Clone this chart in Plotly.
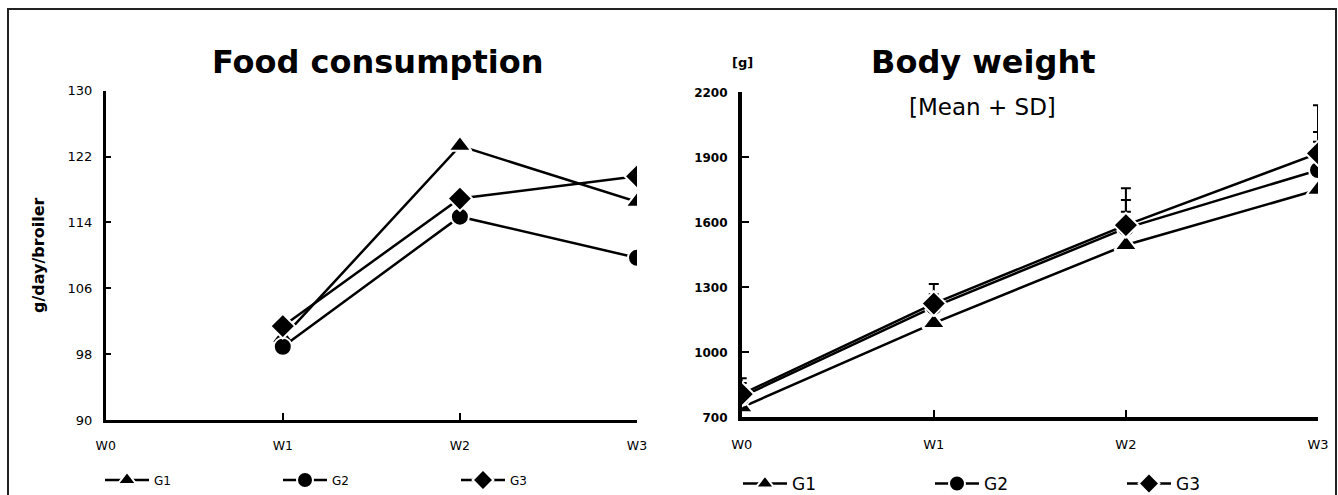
import plotly.graph_objects as go

# ---------------- data ----------------
weeks = ["W0", "W1", "W2", "W3"]
groups = ["G1", "G2", "G3"]
symbols = ["triangle-up", "circle", "diamond"]
marker_sizes = [20, 18, 19]

# Food consumption (g/day/broiler)
fc_g1 = [None, 100.0, 123.3, 116.5]
fc_g2 = [None, 98.9, 114.7, 109.7]
fc_g3 = [None, 101.4, 116.9, 119.6]

# Body weight (g), mean and SD
bw_g1 = [746, 1135, 1495, 1750]
bw_g2 = [795, 1210, 1573, 1841]
bw_g3 = [807, 1225, 1587, 1918]
sd_g1 = [94, 80, 154, 222]
sd_g2 = [85, 58, 130, 176]
sd_g3 = [51, 90, 170, 222]

fc_ticks = [90, 98, 106, 114, 122, 130]
bw_ticks = [700, 1000, 1300, 1600, 1900, 2200]

W, H = 1338, 495
def px(x):
    return x / W
def py(y):
    return 1 - y / H

fig = go.Figure()

fc_series = [fc_g1, fc_g2, fc_g3]
bw_series = [bw_g1, bw_g2, bw_g3]
sd_series = [sd_g1, sd_g2, sd_g3]

for name, sym, ms, vals in zip(groups, symbols, marker_sizes, fc_series):
    fig.add_trace(go.Scatter(
        x=weeks, y=vals, name=name, mode="lines+markers",
        xaxis="x", yaxis="y", legend="legend",
        line=dict(color="black", width=2.5),
        marker=dict(symbol=sym, size=ms, color="black",
                    line=dict(color="white", width=2)),
        connectgaps=False,
    ))

for name, sym, ms, vals, sd in zip(groups, symbols, marker_sizes, bw_series, sd_series):
    fig.add_trace(go.Scatter(
        x=weeks, y=vals, name=name, mode="lines+markers",
        xaxis="x2", yaxis="y2", legend="legend2",
        line=dict(color="black", width=2.5),
        marker=dict(symbol=sym, size=ms, color="black",
                    line=dict(color="white", width=2)),
        error_y=dict(type="data", symmetric=False, array=sd,
                     arrayminus=[0] * len(sd), color="black",
                     thickness=2, width=5),
    ))

axis_common = dict(showgrid=False, zeroline=False, showline=True,
                   linecolor="black", ticks="inside", tickcolor="black",
                   mirror=False)

fig.update_layout(
    width=W, height=H,
    margin=dict(l=0, r=0, t=0, b=0, autoexpand=False),
    paper_bgcolor="white", plot_bgcolor="white",
    font=dict(family="DejaVu Sans", color="black"),
    xaxis=dict(domain=[px(105.7), px(637)], anchor="y", type="category",
               categoryorder="array", categoryarray=weeks,
               range=[0, 3], linewidth=2.5, ticklen=7, tickwidth=2,
               tickfont=dict(size=12.5), ticklabelstandoff=12,
               **axis_common),
    yaxis=dict(domain=[py(420), py(90.7)], anchor="x", range=[90, 130],
               tickvals=fc_ticks, ticktext=[str(t) for t in fc_ticks],
               linewidth=2.5, ticklen=6, tickwidth=2,
               tickfont=dict(size=13), ticklabelstandoff=8,
               **axis_common),
    xaxis2=dict(domain=[px(741.7), px(1318)], anchor="y2", type="category",
                categoryorder="array", categoryarray=weeks,
                range=[0, 3], linewidth=3.5, ticklen=8, tickwidth=2,
                tickfont=dict(size=13), ticklabelstandoff=12,
                **axis_common),
    yaxis2=dict(domain=[py(417.3), py(92.3)], anchor="x2", range=[700, 2200],
                tickvals=bw_ticks, ticktext=[str(t) for t in bw_ticks],
                linewidth=3.5, ticklen=8, tickwidth=2,
                tickfont=dict(size=12, family="DejaVu Sans", weight="bold"),
                ticklabelstandoff=8,
                **axis_common),
    legend=dict(orientation="h", x=px(100), y=py(480), xanchor="left",
                yanchor="middle", entrywidth=119, entrywidthmode="pixels",
                itemwidth=44, font=dict(size=12), bgcolor="rgba(0,0,0,0)"),
    legend2=dict(orientation="h", x=px(738), y=py(484), xanchor="left",
                 yanchor="middle", entrywidth=133, entrywidthmode="pixels",
                 itemwidth=44, font=dict(size=17), bgcolor="rgba(0,0,0,0)"),
    showlegend=True,
)

annotations = [
    dict(text="<b>Food consumption</b>", x=px(377.5), y=py(62),
         font=dict(size=32)),
    dict(text="<b>Body weight</b>", x=px(983), y=py(62),
         font=dict(size=32)),
    dict(text="[Mean + SD]", x=px(982), y=py(107), font=dict(size=23)),
    dict(text="<b>[g]</b>", x=px(742), y=py(62), font=dict(size=13)),
    dict(text="<b>g/day/broiler</b>", x=px(38), y=py(256), textangle=-90,
         font=dict(size=16)),
]
for a in annotations:
    a.update(xref="paper", yref="paper", showarrow=False,
             xanchor="center", yanchor="middle")
fig.update_layout(annotations=annotations)

fig.add_shape(type="rect", xref="paper", yref="paper",
              x0=px(8), x1=px(1336), y0=py(520), y1=py(9),
              line=dict(color="#222222", width=2), fillcolor="rgba(0,0,0,0)",
              layer="below")

fig.write_html("out.html")
